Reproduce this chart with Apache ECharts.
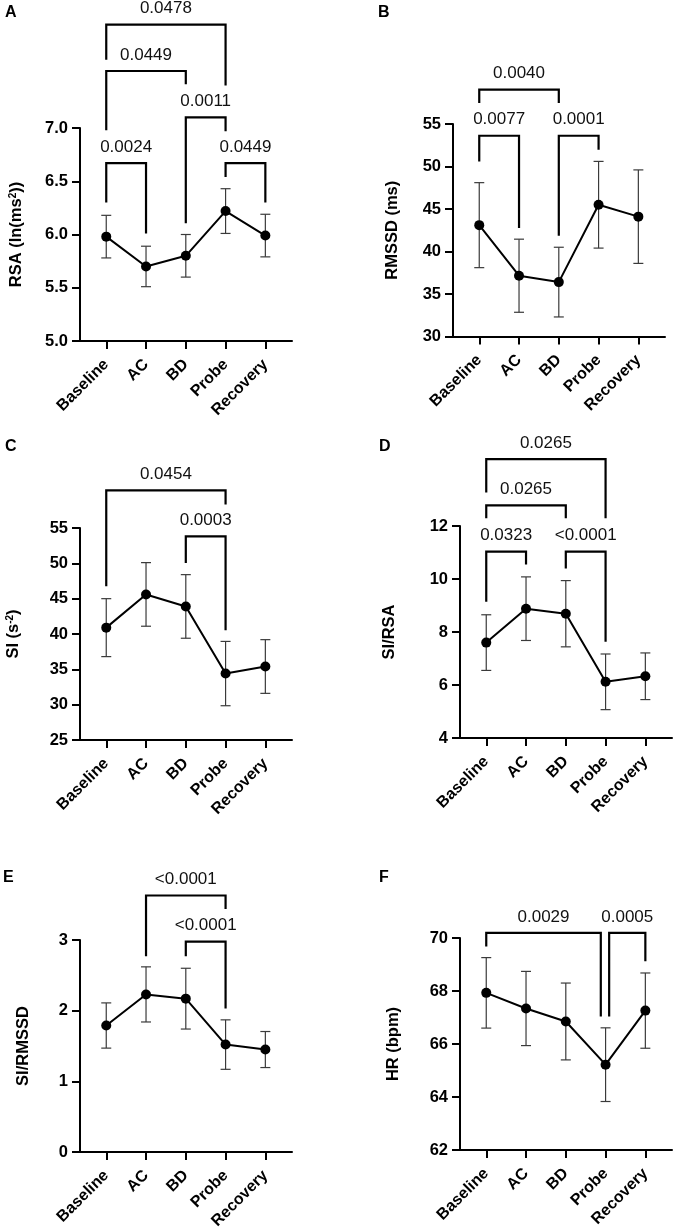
<!DOCTYPE html>
<html>
<head>
<meta charset="utf-8">
<title>HRV panels</title>
<script src="https://cdn.jsdelivr.net/npm/echarts@6/dist/echarts.min.js"></script>
<style>
  html, body { margin: 0; padding: 0; background: #fff; }
  #chart { width: 675px; height: 1227px; }
</style>
</head>
<body>
<div id="chart"></div>
<script>
const categories = ["Baseline", "AC", "BD", "Probe", "Recovery"];

// mean and error bar half-length per phase
const rsaMean = [5.98, 5.70, 5.80, 6.22, 5.99];
const rsaErr = [0.20, 0.19, 0.20, 0.21, 0.20];
const rmssdMean = [43.1, 37.15, 36.4, 45.5, 44.1];
const rmssdErr = [5.0, 4.3, 4.1, 5.1, 5.5];
const siMean = [40.9, 45.6, 43.9, 34.4, 35.4];
const siErr = [4.1, 4.5, 4.5, 4.55, 3.8];
const siRsaMean = [7.6, 8.88, 8.69, 6.12, 6.33];
const siRsaErr = [1.05, 1.2, 1.25, 1.05, 0.88];
const siRmssdMean = [1.79, 2.23, 2.17, 1.52, 1.45];
const siRmssdErr = [0.32, 0.39, 0.43, 0.35, 0.255];
const hrMean = [67.93, 67.34, 66.85, 65.22, 67.26];
const hrErr = [1.33, 1.4, 1.45, 1.39, 1.42];

// comparison brackets: [from, to, bar level, left foot, right foot]
const rsaBrackets = [[0, 1, 6.67, 6.30, 6.01], [3, 4, 6.67, 6.54, 6.30], [2, 3, 7.10, 6.105, 6.97], [0, 2, 7.535, 6.98, 7.41], [0, 3, 7.97, 7.64, 7.40]];
const rsaP = ["0.0024", "0.0449", "0.0011", "0.0449", "0.0478"];
const rmssdBrackets = [[0, 1, 53.62, 50.6, 42.76], [2, 3, 53.62, 41.85, 51.97], [0, 2, 59.04, 57.47, 57.47]];
const rmssdP = ["0.0077", "0.0001", "0.0040"];
const siBrackets = [[2, 3, 53.82, 50.05, 40.54], [0, 3, 60.32, 46.76, 58.34]];
const siP = ["0.0003", "0.0454"];
const siRsaBrackets = [[0, 1, 11.03, 9.14, 10.55], [2, 3, 11.03, 10.40, 7.63], [0, 2, 12.78, 12.29, 12.29], [0, 3, 14.52, 13.26, 12.29]];
const siRsaP = ["0.0323", "<0.0001", "0.0265", "0.0265"];
const siRmssdBrackets = [[2, 3, 2.976, 2.77, 2.03], [1, 3, 3.63, 2.77, 3.44]];
const siRmssdP = ["<0.0001", "<0.0001"];
const hrBrackets = [[0, 2.88, 70.19, 69.68, 67.04], [3.09, 4, 70.19, 67.04, 69.12]];
const hrP = ["0.0029", "0.0005"];

const FONT = '"Liberation Sans", Arial, Helvetica, sans-serif';

const panels = [
  { letter: "A", lx: 5, ly: 5, left: 80, top: 128, h: 213, min: 5, max: 7, step: 0.5, digits: 1,
    name: "RSA (ln(ms{sup|2}))", gap: 55, mean: rsaMean, err: rsaErr, br: rsaBrackets, p: rsaP },
  { letter: "B", lx: 378, ly: 5, left: 453, top: 124, h: 212.5, min: 30, max: 55, step: 5, digits: 0,
    name: "RMSSD (ms)", gap: 52, mean: rmssdMean, err: rmssdErr, br: rmssdBrackets, p: rmssdP },
  { letter: "C", lx: 5, ly: 439, left: 80, top: 528, h: 212, min: 25, max: 55, step: 5, digits: 0,
    name: "SI (s{sup|-2})", gap: 58, mean: siMean, err: siErr, br: siBrackets, p: siP },
  { letter: "D", lx: 379, ly: 439, left: 460, top: 526, h: 212, min: 4, max: 12, step: 2, digits: 0,
    name: "SI/RSA", gap: 62, mean: siRsaMean, err: siRsaErr, br: siRsaBrackets, p: siRsaP },
  { letter: "E", lx: 3, ly: 870, left: 80, top: 940, h: 212, min: 0, max: 3, step: 1, digits: 0,
    name: "SI/RMSSD", gap: 48, mean: siRmssdMean, err: siRmssdErr, br: siRmssdBrackets, p: siRmssdP },
  { letter: "F", lx: 379, ly: 870, left: 460, top: 938, h: 212, min: 62, max: 70, step: 2, digits: 0,
    name: "HR (bpm)", gap: 58, mean: hrMean, err: hrErr, br: hrBrackets, p: hrP },
];

const chart = echarts.init(document.getElementById("chart"), null, { renderer: "canvas" });

const grid = [], xAxis = [], yAxis = [], series = [], title = [];
const axisLine = { onZero: false, lineStyle: { color: "#000", width: 2 } };
const ticks = [0, 1, 2, 3, 4];

panels.forEach((pn, i) => {
  title.push({
    text: pn.letter, left: pn.lx, top: pn.ly, padding: 0,
    textStyle: { fontFamily: FONT, fontSize: 16, fontWeight: "bold", color: "#000" },
  });
  grid.push({ left: pn.left, top: pn.top, width: 212, height: pn.h, outerBoundsMode: "none" });
  xAxis.push({
    type: "value", gridIndex: i, min: -0.66, max: 4.67,
    splitLine: { show: false }, axisLine,
    axisTick: { customValues: ticks, length: 8, lineStyle: { color: "#000", width: 2 } },
    axisLabel: {
      customValues: ticks, rotate: 45, margin: 21, formatter: (v) => categories[v],
      fontFamily: FONT, fontSize: 16, fontWeight: "bold", color: "#000",
    },
  });
  yAxis.push({
    type: "value", gridIndex: i, min: pn.min, max: pn.max, interval: pn.step,
    splitLine: { show: false }, axisLine,
    axisTick: { length: 8, lineStyle: { color: "#000", width: 2 } },
    axisLabel: {
      margin: 12, formatter: (v) => v.toFixed(pn.digits),
      fontFamily: FONT, fontSize: 16.5, fontWeight: "bold", color: "#000",
    },
    name: pn.name, nameLocation: "middle", nameGap: pn.gap,
    nameTextStyle: {
      fontFamily: FONT, fontSize: 16.5, fontWeight: "bold", color: "#000",
      rich: { sup: { fontFamily: FONT, fontSize: 10, fontWeight: "bold", color: "#000", verticalAlign: "top" } },
    },
  });

  // error bars
  series.push({
    type: "custom", xAxisIndex: i, yAxisIndex: i, z: 1, silent: true,
    encode: { x: 0, y: [1, 2] },
    data: pn.mean.map((m, k) => [k, m - pn.err[k], m + pn.err[k]]),
    renderItem: (params, api) => {
      const lo = api.coord([api.value(0), api.value(1)]);
      const hi = api.coord([api.value(0), api.value(2)]);
      const st = { stroke: "#3a3a3a", lineWidth: 1.2 };
      return {
        type: "group",
        children: [
          { type: "line", shape: { x1: lo[0], y1: lo[1], x2: hi[0], y2: hi[1] }, style: st },
          { type: "line", shape: { x1: hi[0] - 5, y1: hi[1], x2: hi[0] + 5, y2: hi[1] }, style: st },
          { type: "line", shape: { x1: lo[0] - 5, y1: lo[1], x2: lo[0] + 5, y2: lo[1] }, style: st },
        ],
      };
    },
  });

  // means
  series.push({
    type: "line", xAxisIndex: i, yAxisIndex: i, z: 3,
    data: pn.mean.map((m, k) => [k, m]),
    symbol: "circle", symbolSize: 10,
    lineStyle: { color: "#000", width: 2 },
    itemStyle: { color: "#000" },
  });

  // significance brackets with p values
  series.push({
    type: "custom", xAxisIndex: i, yAxisIndex: i, z: 2, clip: false, silent: true,
    encode: { x: [0, 1], y: [2, 3, 4] },
    data: pn.br,
    renderItem: (params, api) => {
      const a = api.value(0), b = api.value(1);
      const p1 = api.coord([a, api.value(3)]);
      const p2 = api.coord([a, api.value(2)]);
      const p3 = api.coord([b, api.value(2)]);
      const p4 = api.coord([b, api.value(4)]);
      return {
        type: "group",
        children: [
          { type: "polyline", shape: { points: [p1, p2, p3, p4] }, style: { stroke: "#000", lineWidth: 2.2, fill: null } },
          {
            type: "text",
            style: {
              x: (p2[0] + p3[0]) / 2, y: p2[1] - 16, text: pn.p[params.dataIndex],
              fontFamily: FONT, fontSize: 17, fill: "#111", align: "center", verticalAlign: "middle",
            },
          },
        ],
      };
    },
  });
});

chart.setOption({
  backgroundColor: "#fff",
  animation: false,
  tooltip: { show: false },
  title, grid, xAxis, yAxis, series,
});

window.addEventListener("resize", () => chart.resize());
</script>
</body>
</html>
